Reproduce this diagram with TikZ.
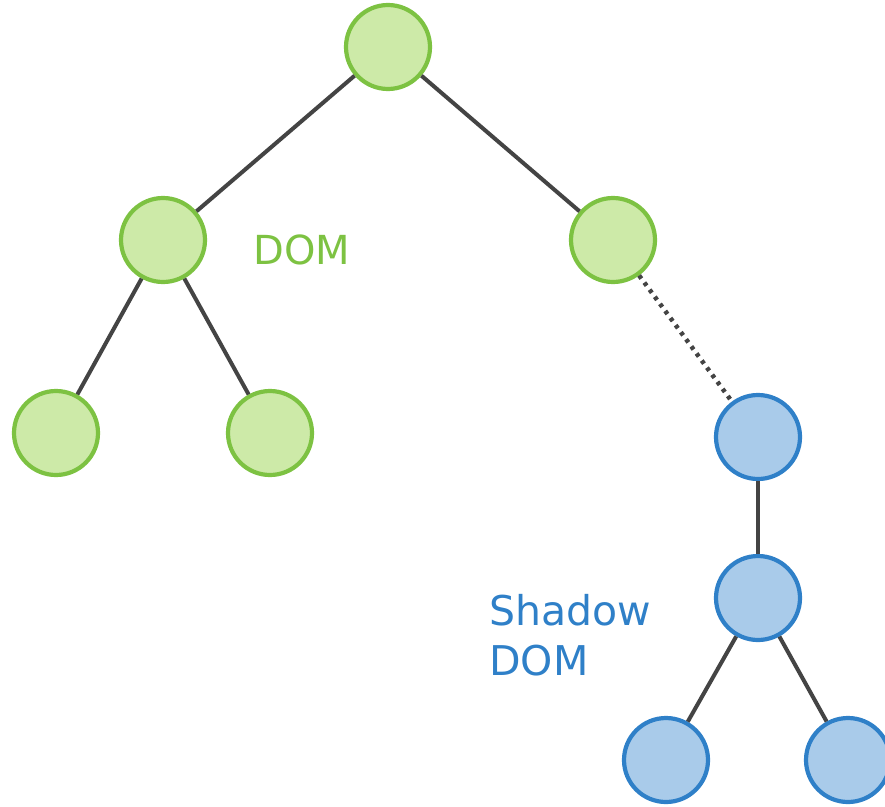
\documentclass[tikz,border=0pt]{standalone}
\usepackage{fontspec}
\setmainfont{DejaVu Sans}
\definecolor{gfill}{HTML}{CDEAA8}
\definecolor{gline}{HTML}{7DC242}
\definecolor{bfill}{HTML}{A9CBEA}
\definecolor{bline}{HTML}{2F80C8}
\definecolor{edge}{HTML}{444444}
\begin{document}
\begin{tikzpicture}[x=1pt,y=-1pt,
  gnode/.style={circle,draw=gline,fill=gfill,line width=4.2pt,minimum size=84pt,inner sep=0pt},
  bnode/.style={circle,draw=bline,fill=bfill,line width=4.2pt,minimum size=84pt,inner sep=0pt},
  link/.style={draw=edge,line width=4pt},
  dotlink/.style={draw=edge,line width=4.5pt,dash pattern=on 3.8pt off 5pt}]
\useasboundingbox (0,0) rectangle (885,806);
\node[gnode] (r) at (388,47) {};
\node[gnode] (a) at (163,240) {};
\node[gnode] (b) at (613,240) {};
\node[gnode] (aa) at (56,433) {};
\node[gnode] (ab) at (270,433) {};
\node[bnode] (s) at (758,437) {};
\node[bnode] (s1) at (758,598) {};
\node[bnode] (s2) at (666,760) {};
\node[bnode] (s3) at (848,760) {};
\draw[link] (r) -- (a);
\draw[link] (r) -- (b);
\draw[link] (a) -- (aa);
\draw[link] (a) -- (ab);
\draw[dotlink] (b) -- (s);
\draw[link] (s) -- (s1);
\draw[link] (s1) -- (s2);
\draw[link] (s1) -- (s3);
\node[text=gline,font=\fontsize{40}{50}\selectfont,anchor=base west,inner sep=0pt] (dom) at (253,264) {DOM};
\node[text=bline,font=\fontsize{41}{50}\selectfont,anchor=base west,inner sep=0pt,align=left] (sd) at (489,675) {Shadow\\DOM};
\end{tikzpicture}
\end{document}
